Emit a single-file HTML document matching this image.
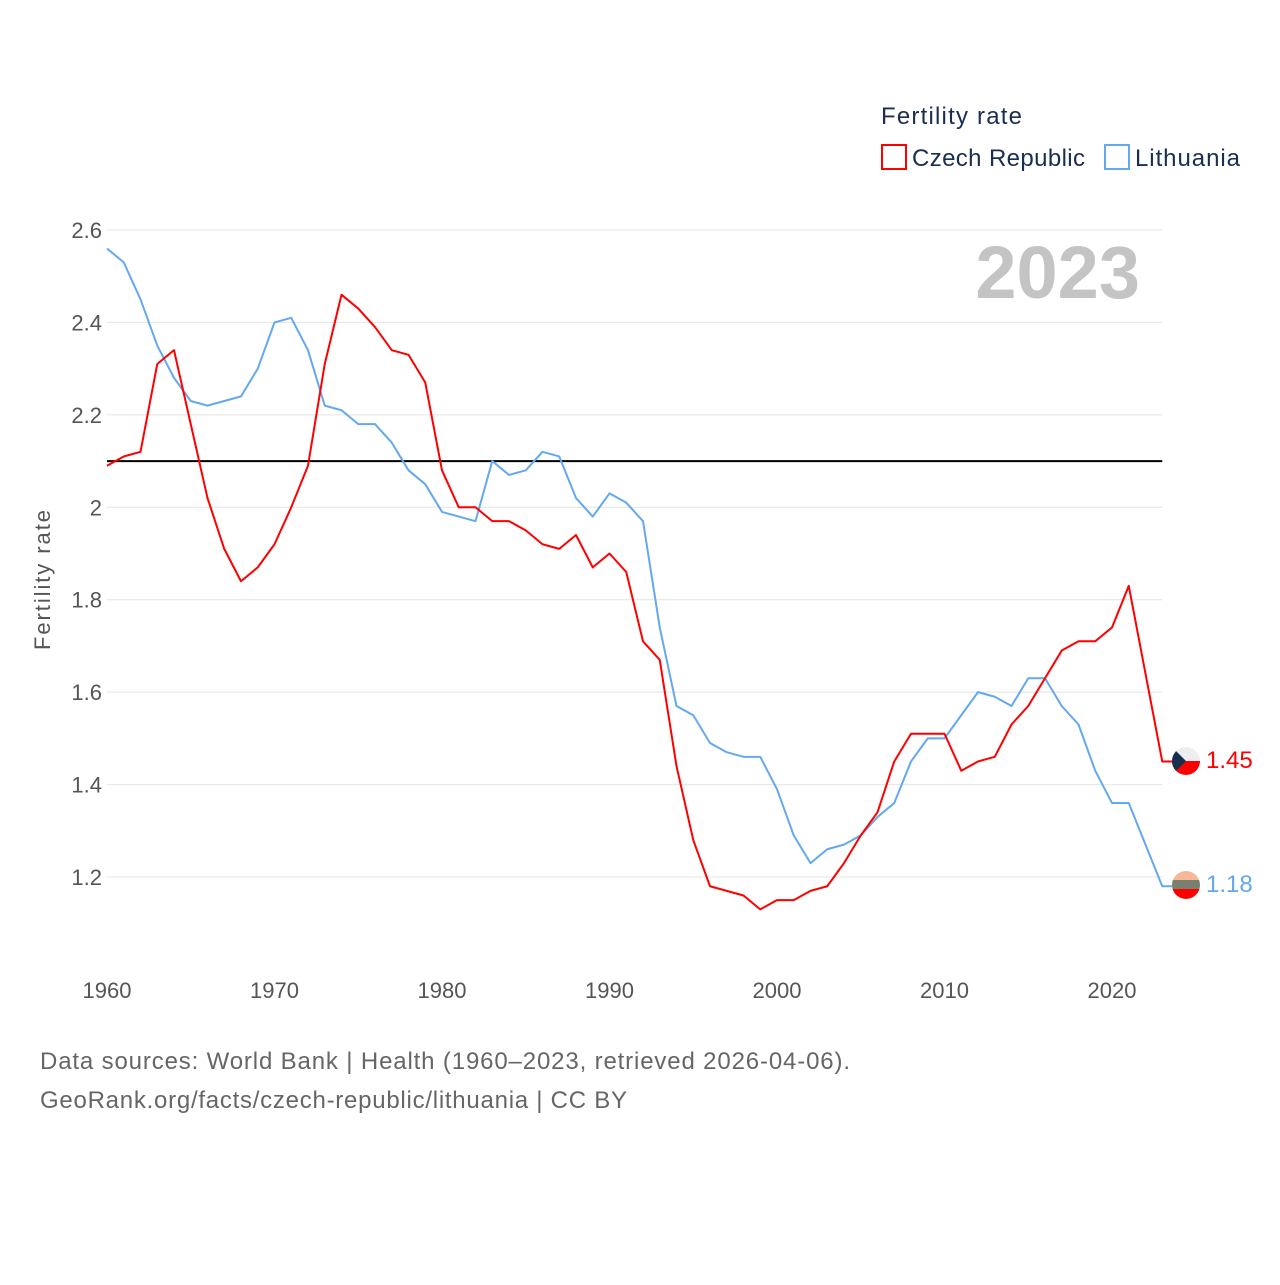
<!DOCTYPE html>
<html><head><meta charset="utf-8"><style>
body{margin:0;background:#fff;font-family:"Liberation Sans",sans-serif}
svg text{font-family:"Liberation Sans",sans-serif}
</style></head><body>
<svg width="1280" height="1280" xmlns="http://www.w3.org/2000/svg">
<g id="grid"></g>
<g id="yt"></g>
<g id="xt"></g>
<text x="50" y="580" transform="rotate(-90 50 580)" text-anchor="middle" font-size="22" fill="#555" textLength="140">Fertility rate</text>
<text x="1140" y="298" text-anchor="end" font-size="74" font-weight="bold" fill="#c4c4c4">2023</text>
<text x="881" y="124" font-size="24" fill="#1a2e50" textLength="141">Fertility rate</text>
<g><rect x="882" y="145" width="24" height="24" fill="none" stroke="#f00" stroke-width="2"/><text x="912" y="166" font-size="24" fill="#1a2e50" textLength="173">Czech Republic</text></g>
<g><rect x="1105" y="145" width="24" height="24" fill="none" stroke="#64a8ee" stroke-width="2"/><text x="1135" y="166" font-size="24" fill="#1a2e50" textLength="105">Lithuania</text></g>
<g id="series"></g>
<text x="40" y="1069" font-size="24" fill="#666" textLength="810">Data sources: World Bank | Health (1960–2023, retrieved 2026-04-06).</text>
<text x="40" y="1108" font-size="24" fill="#666" textLength="587">GeoRank.org/facts/czech-republic/lithuania | CC BY</text>
<defs><clipPath id="c1"><circle cx="1186" cy="761" r="14"/></clipPath><clipPath id="c2"><circle cx="1186" cy="885" r="14"/></clipPath></defs>
<g clip-path="url(#c1)"><rect x="1172" y="747" width="28" height="14" fill="#eee"/><rect x="1172" y="761" width="28" height="14" fill="#f00"/><polygon points="1172,747 1186,761 1172,775" fill="#1a2e50"/></g>
<g clip-path="url(#c2)"><rect x="1172" y="871" width="28" height="10" fill="#f7b89a"/><rect x="1172" y="880" width="28" height="10" fill="#7a8070"/><rect x="1172" y="889" width="28" height="10" fill="#f00"/></g>
<text x="1206" y="768" font-size="24" fill="#f00">1.45</text>
<text x="1206" y="892" font-size="24" fill="#64a8ee">1.18</text>
</svg>
<script>
const years=[];for(let y=1960;y<=2023;y++)years.push(y);
const czech=[2.09,2.11,2.12,2.31,2.34,2.18,2.02,1.91,1.84,1.87,1.92,2.00,2.09,2.31,2.46,2.43,2.39,2.34,2.33,2.27,2.08,2.00,2.00,1.97,1.97,1.95,1.92,1.91,1.94,1.87,1.90,1.86,1.71,1.67,1.44,1.28,1.18,1.17,1.16,1.13,1.15,1.15,1.17,1.18,1.23,1.29,1.34,1.45,1.51,1.51,1.51,1.43,1.45,1.46,1.53,1.57,1.63,1.69,1.71,1.71,1.74,1.83,1.64,1.45];
const lithuania=[2.56,2.53,2.45,2.35,2.28,2.23,2.22,2.23,2.24,2.30,2.40,2.41,2.34,2.22,2.21,2.18,2.18,2.14,2.08,2.05,1.99,1.98,1.97,2.10,2.07,2.08,2.12,2.11,2.02,1.98,2.03,2.01,1.97,1.74,1.57,1.55,1.49,1.47,1.46,1.46,1.39,1.29,1.23,1.26,1.27,1.29,1.33,1.36,1.45,1.50,1.50,1.55,1.60,1.59,1.57,1.63,1.63,1.57,1.53,1.43,1.36,1.36,1.27,1.18];
const yTicks=[1.2,1.4,1.6,1.8,2,2.2,2.4,2.6];
const xTicks=[1960,1970,1980,1990,2000,2010,2020];
const replacement=2.1;
const X=y=>107+(y-1960)*16.75;
const Y=v=>877-(v-1.2)*462.14;
const NS="http://www.w3.org/2000/svg";
function mk(t,a,p){const e=document.createElementNS(NS,t);for(const k in a)e.setAttribute(k,a[k]);p.appendChild(e);return e;}
const grid=document.getElementById('grid'),yt=document.getElementById('yt'),xt=document.getElementById('xt'),ser=document.getElementById('series');
yTicks.forEach(v=>{
const l=mk('line',{x1:107,x2:1162,y1:Y(v),y2:Y(v),stroke:'#e4e4e4','stroke-width':1},grid);


const t=mk('text',{x:102,y:Y(v)+8,'text-anchor':'end','font-size':22,fill:'#555'},yt);t.textContent=String(v);


});
xTicks.forEach(v=>{
const t=mk('text',{x:X(v),y:998,'text-anchor':'middle','font-size':22,fill:'#555'},xt);t.textContent=v;


});
const r=mk('line',{x1:X(1960),x2:X(2023),y1:Y(replacement),y2:Y(replacement),stroke:'#000','stroke-width':2},ser);


function line(d,c,n){const last=d[d.length-1];
const pts=d.map((v,i)=>X(years[i])+','+Y(v));pts.push((X(years[years.length-1])+10)+','+Y(last));
const p=mk('polyline',{points:pts.join(' '),fill:'none',stroke:c,'stroke-width':2,'stroke-linejoin':'round'},ser);

}
line(lithuania,'#64a8ee','lithuania-line');
line(czech,'#f00','czech-line');
</script>
</body></html>
